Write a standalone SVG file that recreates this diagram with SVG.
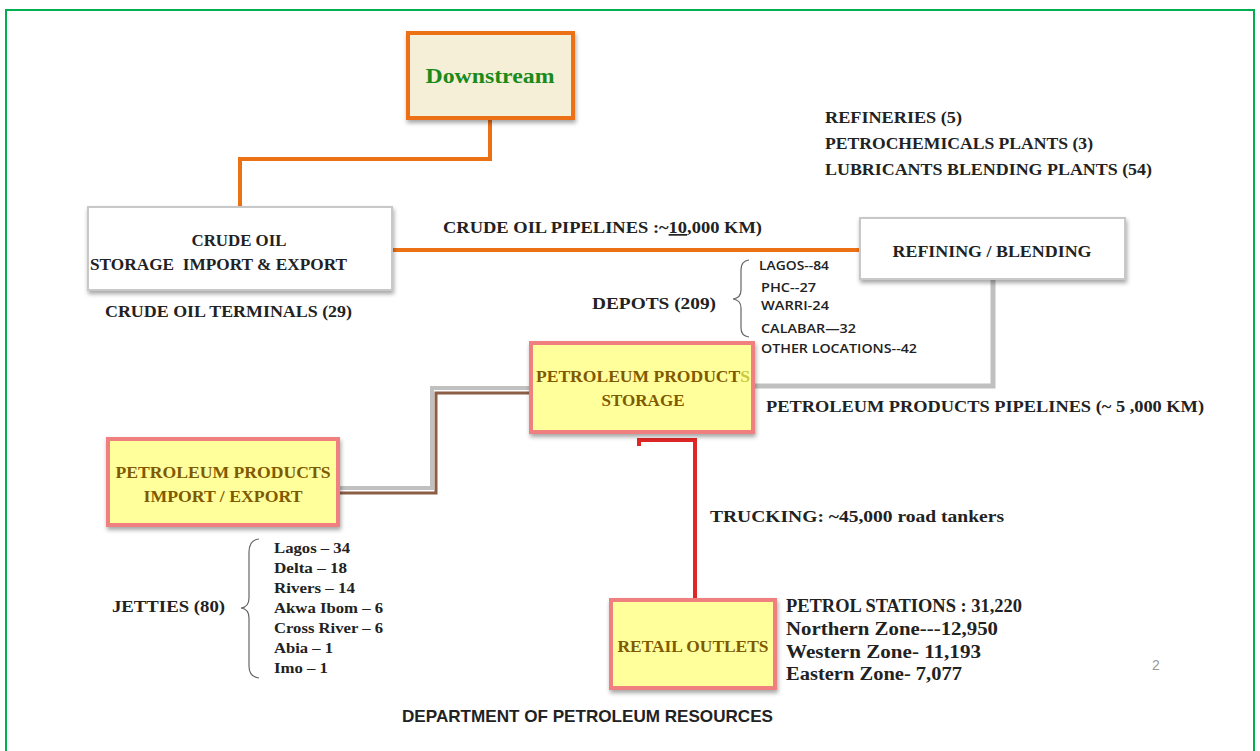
<svg xmlns="http://www.w3.org/2000/svg" width="1260" height="751" viewBox="0 0 1260 751">
<defs>
<filter id="sh" x="-10%" y="-10%" width="125%" height="130%">
<feDropShadow dx="1" dy="3" stdDeviation="2" flood-color="#000" flood-opacity="0.35"/>
</filter>
<style>
.t{font-family:"Liberation Serif","DejaVu Serif",serif;font-weight:bold;fill:#222;}
.s{font-family:"Open Sans","Liberation Sans",sans-serif;font-weight:600;fill:#222;}
.br{font-family:"Liberation Serif","DejaVu Serif",serif;font-weight:bold;fill:#7f5a00;}
.box{fill:#fff;stroke:#c8c8c8;stroke-width:2;}
.ybox{fill:#ffff9c;stroke:#f08080;stroke-width:4;}
.brace{fill:none;stroke:#666;stroke-width:1.2;}
</style>
</defs>
<rect x="0" y="0" width="1260" height="751" fill="#fff"/>
<rect x="6" y="10" width="1248" height="760" fill="none" stroke="#00b050" stroke-width="2"/>

<g id="connectors">
<polyline points="490,118 490,159 240,159 240,208" fill="none" stroke="#ec7014" stroke-width="4"/>
<line x1="393" y1="250" x2="862" y2="250" stroke="#ec7014" stroke-width="4"/>
<polyline points="993,280 993,386 753,386" fill="none" stroke="#c0c0c0" stroke-width="5"/>
<polyline points="530,388 432,388 432,488 338,488" fill="none" stroke="#c0c0c0" stroke-width="4"/>
<polyline points="530,393 436,393 436,493 338,493" fill="none" stroke="#8b5e45" stroke-width="3"/>
<polyline points="639,446 639,440 695,440 695,600" fill="none" stroke="#e02626" stroke-width="4"/>
</g>

<g id="downstream">
<rect x="408" y="33" width="165" height="85" fill="#f5efd8" stroke="#ec7014" stroke-width="4" filter="url(#sh)"/>
<text x="490" y="83" text-anchor="middle" font-family="Liberation Serif,serif" font-weight="bold" font-size="20" fill="#1a8a1a" textLength="129" lengthAdjust="spacingAndGlyphs">Downstream</text>
</g>

<g id="crude-oil">
<rect class="box" x="88" y="207" width="304" height="83" filter="url(#sh)"/>
<text class="t" x="239" y="246" font-size="17" text-anchor="middle" textLength="95" lengthAdjust="spacingAndGlyphs">CRUDE OIL</text>
<text class="t" x="90" y="270" font-size="17" textLength="257" lengthAdjust="spacingAndGlyphs" xml:space="preserve">STORAGE  IMPORT &amp; EXPORT</text>
</g>
<text class="t" x="105" y="317" font-size="17" textLength="247" lengthAdjust="spacingAndGlyphs">CRUDE OIL TERMINALS (29)</text>

<text class="t" x="443" y="233" font-size="17" textLength="319" lengthAdjust="spacingAndGlyphs">CRUDE OIL PIPELINES :~<tspan text-decoration="underline">10</tspan>,000 KM)</text>

<g id="refining">
<rect class="box" x="860" y="218" width="265" height="61" filter="url(#sh)"/>
<text class="t" x="992" y="257" font-size="17" text-anchor="middle" textLength="199" lengthAdjust="spacingAndGlyphs">REFINING / BLENDING</text>
</g>

<text class="t" x="825" y="123" font-size="17" textLength="137" lengthAdjust="spacingAndGlyphs">REFINERIES (5)</text>
<text class="t" x="825" y="149" font-size="17" textLength="268" lengthAdjust="spacingAndGlyphs">PETROCHEMICALS PLANTS (3)</text>
<text class="t" x="825" y="175" font-size="17" textLength="327" lengthAdjust="spacingAndGlyphs">LUBRICANTS BLENDING PLANTS (54)</text>

<g id="depots">
<text class="t" x="592" y="309" font-size="17" textLength="124" lengthAdjust="spacingAndGlyphs">DEPOTS (209)</text>
<path class="brace" d="M749,260 Q741,261 741,270 L741,290 Q741,298 733,299 Q741,300 741,308 L741,328 Q741,336 749,337"/>
<text class="s" x="759" y="270" font-size="12.5" textLength="70" lengthAdjust="spacingAndGlyphs">LAGOS--84</text>
<text class="s" x="761" y="292" font-size="12.5" textLength="55" lengthAdjust="spacingAndGlyphs">PHC--27</text>
<text class="s" x="761" y="310" font-size="12.5" textLength="68" lengthAdjust="spacingAndGlyphs">WARRI-24</text>
<text class="s" x="761" y="333" font-size="12.5" textLength="95" lengthAdjust="spacingAndGlyphs">CALABAR—32</text>
<text class="s" x="761" y="353" font-size="12.5" textLength="156" lengthAdjust="spacingAndGlyphs">OTHER LOCATIONS--42</text>
</g>

<g id="storage">
<rect class="ybox" x="531" y="343" width="222" height="89" filter="url(#sh)"/>
<text class="br" x="536" y="382" font-size="17" textLength="214" lengthAdjust="spacingAndGlyphs">PETROLEUM PRODUCT<tspan fill="#c8c83a">S</tspan></text>
<text class="br" x="643" y="406" font-size="17" text-anchor="middle" textLength="83" lengthAdjust="spacingAndGlyphs">STORAGE</text>
</g>
<text class="t" x="766" y="412" font-size="17" textLength="438" lengthAdjust="spacingAndGlyphs">PETROLEUM PRODUCTS PIPELINES (~ 5 ,000 KM)</text>

<g id="import-export">
<rect class="ybox" x="108" y="439" width="230" height="86" filter="url(#sh)"/>
<text class="br" x="223" y="478" font-size="17" text-anchor="middle" textLength="215" lengthAdjust="spacingAndGlyphs">PETROLEUM PRODUCTS</text>
<text class="br" x="223" y="502" font-size="17" text-anchor="middle" textLength="159" lengthAdjust="spacingAndGlyphs">IMPORT / EXPORT</text>
</g>

<g id="jetties">
<text class="t" x="112" y="612" font-size="17" textLength="113" lengthAdjust="spacingAndGlyphs">JETTIES (80)</text>
<path class="brace" d="M259,539 Q249,540 249,552 L249,598 Q249,607 241,608 Q249,609 249,618 L249,666 Q249,677 259,678"/>
<text class="t" x="274" y="553" font-size="15" textLength="76" lengthAdjust="spacingAndGlyphs">Lagos – 34</text>
<text class="t" x="274" y="573" font-size="15" textLength="73" lengthAdjust="spacingAndGlyphs">Delta – 18</text>
<text class="t" x="274" y="593" font-size="15" textLength="81" lengthAdjust="spacingAndGlyphs">Rivers – 14</text>
<text class="t" x="274" y="613" font-size="15" textLength="109" lengthAdjust="spacingAndGlyphs">Akwa Ibom – 6</text>
<text class="t" x="274" y="633" font-size="15" textLength="109" lengthAdjust="spacingAndGlyphs">Cross River – 6</text>
<text class="t" x="274" y="653" font-size="15" textLength="59" lengthAdjust="spacingAndGlyphs">Abia – 1</text>
<text class="t" x="274" y="673" font-size="15" textLength="54" lengthAdjust="spacingAndGlyphs">Imo – 1</text>
</g>

<text class="t" x="710" y="522" font-size="17" textLength="294" lengthAdjust="spacingAndGlyphs">TRUCKING: ~45,000 road tankers</text>

<g id="retail">
<rect class="ybox" x="611" y="600" width="164" height="88" filter="url(#sh)"/>
<text class="br" x="693" y="652" font-size="17" text-anchor="middle" textLength="151" lengthAdjust="spacingAndGlyphs">RETAIL OUTLETS</text>
</g>
<text class="t" x="786" y="612" font-size="18" textLength="236" lengthAdjust="spacingAndGlyphs">PETROL STATIONS : 31,220</text>
<text class="t" x="786" y="635" font-size="18" textLength="212" lengthAdjust="spacingAndGlyphs">Northern Zone---12,950</text>
<text class="t" x="786" y="658" font-size="18" textLength="195" lengthAdjust="spacingAndGlyphs">Western Zone- 11,193</text>
<text class="t" x="786" y="680" font-size="18" textLength="176" lengthAdjust="spacingAndGlyphs">Eastern Zone- 7,077</text>

<text x="1152" y="670" font-family="Liberation Sans,sans-serif" font-size="14" fill="#999">2</text>
<text x="402" y="722" font-family="Liberation Sans,sans-serif" font-weight="600" font-size="17" fill="#222" textLength="371" lengthAdjust="spacingAndGlyphs">DEPARTMENT OF PETROLEUM RESOURCES</text>
</svg>
